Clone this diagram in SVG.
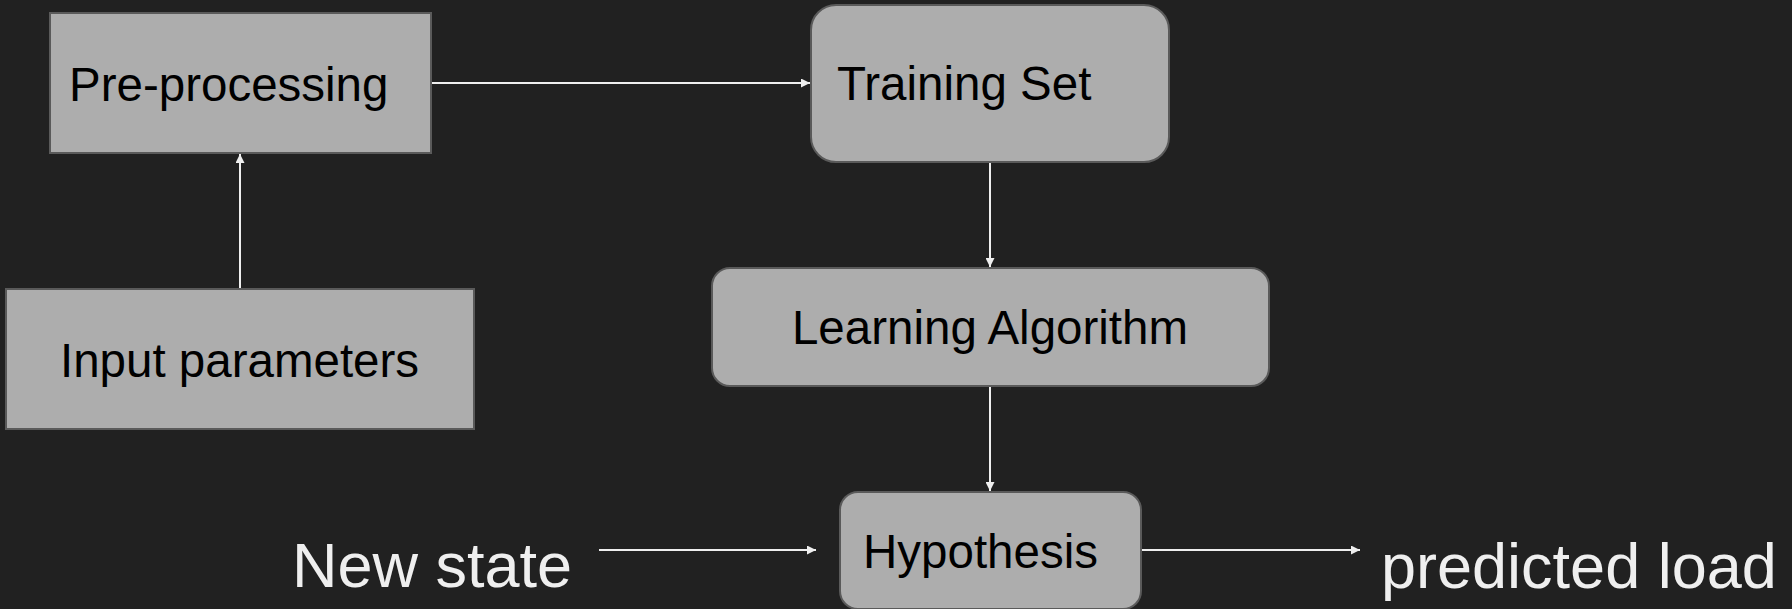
<svg xmlns="http://www.w3.org/2000/svg" width="1792" height="609" viewBox="0 0 1792 609">
<style>
.box{fill:#adadad;stroke:#5a5a5a;stroke-width:2}
.lbl{font-family:"Liberation Sans",Arial,sans-serif;font-size:47.5px;fill:#000}
.big{font-family:"Liberation Sans",Arial,sans-serif;font-size:63px;fill:#efefef}
.edge{stroke:#efefef;stroke-width:2;fill:none}
</style>
<defs>
<marker id="ah" viewBox="0 0 10 10" refX="10" refY="5" markerWidth="11" markerHeight="9" markerUnits="userSpaceOnUse" orient="auto">
<path d="M0,0 L10,5 L0,10 z" fill="#efefef"/>
</marker>
</defs>
<rect width="1792" height="609" fill="#212121"/>
<g id="connectors">
<line class="edge" x1="431" y1="83" x2="810" y2="83" marker-end="url(#ah)"/>
<line class="edge" x1="240" y1="289" x2="240" y2="154" marker-end="url(#ah)"/>
<line class="edge" x1="990" y1="162" x2="990" y2="267" marker-end="url(#ah)"/>
<line class="edge" x1="990" y1="386" x2="990" y2="491" marker-end="url(#ah)"/>
<line class="edge" x1="599" y1="550" x2="816" y2="550" marker-end="url(#ah)"/>
<line class="edge" x1="1142" y1="550" x2="1360" y2="550" marker-end="url(#ah)"/>
</g>
<g id="preprocessing">
<rect class="box" x="50" y="13" width="381" height="140"/>
<text class="lbl" x="69" y="101">Pre-processing</text>
</g>
<g id="input-parameters">
<rect class="box" x="6" y="289" width="468" height="140"/>
<text class="lbl" x="60" y="377">Input parameters</text>
</g>
<g id="training-set">
<rect class="box" x="811" y="5" width="358" height="157" rx="25"/>
<text class="lbl" x="837" y="100">Training Set</text>
</g>
<g id="learning-algorithm">
<rect class="box" x="712" y="268" width="557" height="118" rx="18"/>
<text class="lbl" x="990" y="344" text-anchor="middle">Learning Algorithm</text>
</g>
<g id="hypothesis">
<rect class="box" x="840" y="492" width="301" height="117" rx="18"/>
<text class="lbl" x="863" y="568">Hypothesis</text>
</g>
<g id="new-state">
<text class="big" x="292" y="587">New state</text>
</g>
<g id="predicted-load">
<text class="big" x="1381" y="588">predicted load</text>
</g>
</svg>
